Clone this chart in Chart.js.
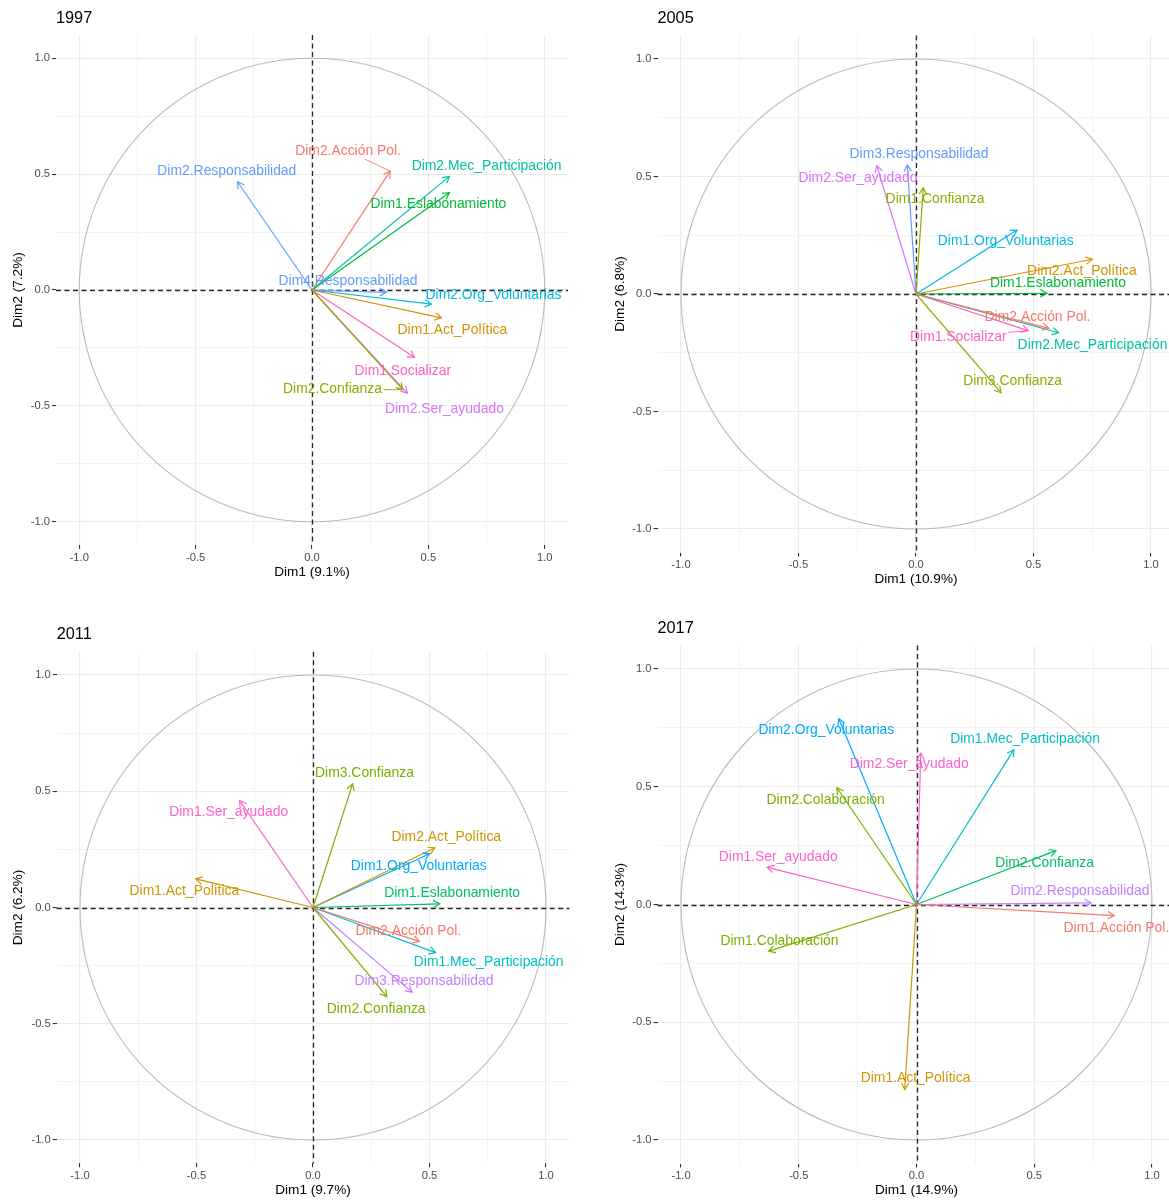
<!DOCTYPE html>
<html>
<head>
<meta charset="utf-8">
<title>Círculos de correlación de variables</title>
<script src="https://cdn.jsdelivr.net/npm/chart.js@4/dist/chart.umd.min.js"></script>
<style>
  html, body { margin: 0; padding: 0; background: #ffffff; }
  #wrap { position: relative; width: 1169px; height: 1201px; overflow: hidden; background: #ffffff; }
  #wrap canvas { position: absolute; }
</style>
</head>
<body>
<div id="wrap">
  <canvas id="c1997" width="585" height="600" style="left:0px;top:0px"></canvas>
  <canvas id="c2005" width="600" height="600" style="left:600px;top:0px"></canvas>
  <canvas id="c2011" width="585" height="601" style="left:0px;top:600px"></canvas>
  <canvas id="c2017" width="600" height="601" style="left:600px;top:600px"></canvas>
</div>
<script>
// ---------------- shared axis ticks ----------------
const TICK_VALUES = [-1, -0.75, -0.5, -0.25, 0, 0.25, 0.5, 0.75, 1];
const MAJOR_TICKS = [-1, -0.5, 0, 0.5, 1];

// ---------------- 1997 ----------------
const YEAR_1997 = '1997';
const PCT_1997 = ['Dim1 (9.1%)', 'Dim2 (7.2%)'];
const VARS_1997 = ['Dim2.Acción Pol.', 'Dim1.Act_Política', 'Dim2.Confianza', 'Dim1.Eslabonamiento',
  'Dim2.Mec_Participación', 'Dim2.Org_Voluntarias', 'Dim2.Responsabilidad', 'Dim4.Responsabilidad',
  'Dim2.Ser_ayudado', 'Dim1.Socializar'];
const DIM1_1997 = [0.336, 0.556, 0.390, 0.590, 0.590, 0.513, -0.320, 0.320, 0.410, 0.440];
const DIM2_1997 = [0.513, -0.120, -0.430, 0.420, 0.490, -0.061, 0.467, -0.010, -0.445, -0.290];

// ---------------- 2005 ----------------
const YEAR_2005 = '2005';
const PCT_2005 = ['Dim1 (10.9%)', 'Dim2 (6.8%)'];
const VARS_2005 = ['Dim2.Acción Pol.', 'Dim2.Act_Política', 'Dim1.Confianza', 'Dim3.Confianza',
  'Dim1.Eslabonamiento', 'Dim2.Mec_Participación', 'Dim1.Org_Voluntarias', 'Dim3.Responsabilidad',
  'Dim2.Ser_ayudado', 'Dim1.Socializar'];
const DIM1_2005 = [0.565, 0.750, 0.031, 0.362, 0.557, 0.607, 0.430, -0.037, -0.167, 0.477];
const DIM2_2005 = [-0.146, 0.148, 0.452, -0.420, 0.003, -0.165, 0.272, 0.549, 0.546, -0.156];

// ---------------- 2011 ----------------
const YEAR_2011 = '2011';
const PCT_2011 = ['Dim1 (9.7%)', 'Dim2 (6.2%)'];
const VARS_2011 = ['Dim2.Acción Pol.', 'Dim1.Act_Política', 'Dim2.Act_Política', 'Dim2.Confianza',
  'Dim3.Confianza', 'Dim1.Eslabonamiento', 'Dim1.Mec_Participación', 'Dim1.Org_Voluntarias',
  'Dim3.Responsabilidad', 'Dim1.Ser_ayudado'];
const DIM1_2011 = [0.457, -0.503, 0.523, 0.317, 0.170, 0.544, 0.526, 0.500, 0.425, -0.315];
const DIM2_2011 = [-0.146, 0.123, 0.257, -0.383, 0.532, 0.016, -0.194, 0.231, -0.364, 0.460];

// ---------------- 2017 ----------------
const YEAR_2017 = '2017';
const PCT_2017 = ['Dim1 (14.9%)', 'Dim2 (14.3%)'];
const VARS_2017 = ['Dim1.Acción Pol.', 'Dim1.Act_Política', 'Dim1.Colaboración', 'Dim2.Colaboración',
  'Dim2.Confianza', 'Dim1.Mec_Participación', 'Dim2.Org_Voluntarias', 'Dim2.Responsabilidad',
  'Dim1.Ser_ayudado', 'Dim2.Ser_ayudado'];
const DIM1_2017 = [0.840, -0.050, -0.628, -0.338, 0.592, 0.413, -0.330, 0.742, -0.634, 0.018];
const DIM2_2017 = [-0.047, -0.786, -0.198, 0.496, 0.229, 0.657, 0.789, 0.007, 0.158, 0.643];

// ---------------- label placement (data units, repelled positions) ----------------
const LABEL_X_1997 = [0.155, 0.603, 0.088, 0.543, 0.750, 0.780, -0.366, 0.155, 0.569, 0.390];
const LABEL_Y_1997 = [0.599, -0.172, -0.428, 0.371, 0.536, -0.022, 0.513, 0.036, -0.513, -0.348];
const LINK_1997 = [true, false, true, false, false, false, false, false, false, false];

const LABEL_X_2005 = [0.517, 0.706, 0.081, 0.411, 0.604, 0.751, 0.382, 0.013, -0.247, 0.180];
const LABEL_Y_2005 = [-0.097, 0.099, 0.403, -0.373, 0.046, -0.217, 0.223, 0.596, 0.492, -0.182];
const LINK_2005 = [false, false, false, false, false, false, false, false, false, true];

const LABEL_X_2011 = [0.409, -0.552, 0.572, 0.271, 0.221, 0.597, 0.754, 0.454, 0.476, -0.362];
const LABEL_Y_2011 = [-0.102, 0.069, 0.301, -0.436, 0.578, 0.062, -0.235, 0.179, -0.317, 0.412];
const LINK_2011 = [false, false, false, false, false, false, false, false, false, false];

const LABEL_X_2017 = [0.849, -0.004, -0.582, -0.386, 0.544, 0.461, -0.383, 0.694, -0.587, -0.031];
const LABEL_Y_2017 = [-0.099, -0.738, -0.157, 0.445, 0.177, 0.701, 0.739, 0.055, 0.201, 0.594];
const LINK_2017 = [false, false, false, false, false, false, false, false, false, false];

// ---------------- colours: ggplot hue scale per number of variable groups ----------------
const HUE_PALETTES = {
  8: ['#F8766D', '#CD9600', '#7CAE00', '#00BE67', '#00BFC4', '#00A9FF', '#C77CFF', '#FF61CC'],
  9: ['#F8766D', '#D39200', '#93AA00', '#00BA38', '#00C19F', '#00B9E3', '#619CFF', '#DB72FB', '#FF61C3']
};

const FONT_FAMILY = '"Liberation Sans", Arial, Helvetica, sans-serif';
Chart.defaults.font.family = FONT_FAMILY;

function groupOf(name) { return name.slice(name.indexOf('.') + 1); }

function coloursFor(names) {
  const groups = Array.from(new Set(names.map(groupOf))).sort();
  const pal = HUE_PALETTES[groups.length];
  return names.map(n => pal[groups.indexOf(groupOf(n))]);
}

const isMajor = v => MAJOR_TICKS.some(m => Math.abs(m - v) < 1e-9);

// Correlation circle, dashed zero axes, arrow heads, labels and panel title
const biplotPlugin = {
  id: 'biplot',
  beforeDatasetsDraw(chart, args, opts) {
    const { ctx, chartArea: a, scales: { x, y } } = chart;
    const cx = x.getPixelForValue(0), cy = y.getPixelForValue(0);
    ctx.save();
    ctx.beginPath();
    ctx.ellipse(cx, cy, x.getPixelForValue(1) - cx, cy - y.getPixelForValue(1), 0, 0, Math.PI * 2);
    ctx.strokeStyle = '#BABABA';
    ctx.lineWidth = 1.1;
    ctx.stroke();
    // dashed reference lines through the origin
    ctx.setLineDash([5, 3.5]);
    ctx.strokeStyle = '#262626';
    ctx.lineWidth = 1.3;
    ctx.beginPath();
    ctx.moveTo(a.left, Math.round(cy) + 0.5);
    ctx.lineTo(a.right, Math.round(cy) + 0.5);
    ctx.moveTo(Math.round(cx) + 0.5, a.top);
    ctx.lineTo(Math.round(cx) + 0.5, a.bottom);
    ctx.stroke();
    ctx.restore();
  },
  afterDatasetsDraw(chart, args, opts) {
    const { ctx, scales: { x, y } } = chart;
    ctx.save();
    // open arrow heads at each variable's coordinates
    chart.data.datasets.forEach((ds, i) => {
      const pts = chart.getDatasetMeta(i).data;
      const p0 = pts[0], p1 = pts[1];
      const ang = Math.atan2(p1.y - p0.y, p1.x - p0.x);
      const len = 7, spread = Math.PI / 6;
      ctx.strokeStyle = ds.borderColor;
      ctx.lineWidth = 1.2;
      ctx.lineCap = 'round';
      ctx.beginPath();
      ctx.moveTo(p1.x - len * Math.cos(ang - spread), p1.y - len * Math.sin(ang - spread));
      ctx.lineTo(p1.x, p1.y);
      ctx.lineTo(p1.x - len * Math.cos(ang + spread), p1.y - len * Math.sin(ang + spread));
      ctx.stroke();
    });
    // variable labels
    ctx.font = '13.9px ' + FONT_FAMILY;
    ctx.textAlign = 'center';
    ctx.textBaseline = 'middle';
    chart.data.datasets.forEach((ds, i) => {
      const lx = x.getPixelForValue(opts.labelX[i]);
      const ly = y.getPixelForValue(opts.labelY[i]);
      ctx.fillStyle = ds.borderColor;
      ctx.fillText(ds.label, lx, ly);
      if (opts.link[i]) {
        const tip = chart.getDatasetMeta(i).data[1];
        const hw = ctx.measureText(ds.label).width / 2 + 2, hh = 8;
        const dx = tip.x - lx, dy = tip.y - ly;
        const t = Math.min(dx !== 0 ? hw / Math.abs(dx) : Infinity, dy !== 0 ? hh / Math.abs(dy) : Infinity);
        const d = Math.hypot(dx, dy);
        ctx.strokeStyle = ds.borderColor;
        ctx.lineWidth = 0.9;
        ctx.beginPath();
        ctx.moveTo(lx + dx * t, ly + dy * t);
        ctx.lineTo(tip.x - dx / d * 1.5, tip.y - dy / d * 1.5);
        ctx.stroke();
      }
    });
    // panel title
    ctx.font = '16.3px ' + FONT_FAMILY;
    ctx.textAlign = 'left';
    ctx.fillStyle = '#000000';
    ctx.fillText(opts.title, chart.chartArea.left, opts.titleY);
    ctx.restore();
  }
};

function makePanel(canvasId, panel, frame) {
  const colours = coloursFor(panel.names);
  const datasets = panel.names.map((name, i) => ({
    label: name,
    data: [{ x: 0, y: 0 }, { x: panel.dim1[i], y: panel.dim2[i] }],
    borderColor: colours[i],
    backgroundColor: colours[i],
    borderWidth: 1.2,
    showLine: true,
    pointRadius: 0,
    pointHoverRadius: 0,
    fill: false,
    tension: 0
  }));

  const titleHalf = 13.6 * 1.2 / 2;
  const scaleBottom = frame.xTitleY + titleHalf;
  const a = frame.area;

  const gridOpts = {
    color: c => (c.tick && isMajor(c.tick.value)) ? '#EBEBEB' : '#F0F0F0',
    lineWidth: c => (c.tick && isMajor(c.tick.value)) ? 1.1 : 0.8,
    tickColor: c => (c.tick && isMajor(c.tick.value)) ? '#333333' : 'rgba(0,0,0,0)',
    tickWidth: 1.1,
    tickLength: 4,
    drawTicks: true
  };
  const tickOpts = {
    autoSkip: false,
    maxRotation: 0,
    minRotation: 0,
    color: '#4D4D4D',
    font: { size: 11.2 },
    padding: 2,
    callback: v => isMajor(v) ? v.toFixed(1) : ''
  };
  const setTicks = s => { s.ticks = TICK_VALUES.map(v => ({ value: v })); };

  return new Chart(document.getElementById(canvasId), {
    type: 'scatter',
    data: { datasets },
    options: {
      responsive: false,
      animation: false,
      devicePixelRatio: 1,
      events: [],
      layout: {
        padding: { left: 0, top: a.t, right: frame.w - a.r, bottom: frame.h - scaleBottom }
      },
      plugins: {
        legend: { display: false },
        tooltip: { enabled: false },
        biplot: {
          labelX: panel.labelX, labelY: panel.labelY, link: panel.link,
          title: panel.title, titleY: frame.titleY
        }
      },
      scales: {
        x: {
          type: 'linear', min: -1.1, max: 1.1,
          afterBuildTicks: setTicks,
          afterFit: s => { s.height = scaleBottom - a.b; },
          ticks: tickOpts,
          grid: gridOpts,
          border: { display: false },
          title: { display: true, text: panel.pct[0], color: '#000000', font: { size: 13.6 }, padding: { top: 0, bottom: 0 } }
        },
        y: {
          type: 'linear', min: -1.1, max: 1.1,
          afterBuildTicks: setTicks,
          afterFit: s => { s.width = a.l; },
          ticks: tickOpts,
          grid: gridOpts,
          border: { display: false },
          title: { display: true, text: panel.pct[1], color: '#000000', font: { size: 13.6 }, padding: { top: frame.yTitleX - titleHalf, bottom: 0 } }
        }
      }
    },
    plugins: [biplotPlugin]
  });
}

makePanel('c1997',
  { title: YEAR_1997, pct: PCT_1997, names: VARS_1997, dim1: DIM1_1997, dim2: DIM2_1997,
    labelX: LABEL_X_1997, labelY: LABEL_Y_1997, link: LINK_1997 },
  { w: 585, h: 600, area: { l: 56, r: 568, t: 35, b: 545 }, xTitleY: 572, yTitleX: 18, titleY: 18.5 });

makePanel('c2005',
  { title: YEAR_2005, pct: PCT_2005, names: VARS_2005, dim1: DIM1_2005, dim2: DIM2_2005,
    labelX: LABEL_X_2005, labelY: LABEL_Y_2005, link: LINK_2005 },
  { w: 600, h: 600, area: { l: 57.5, r: 574.5, t: 35.5, b: 552.5 }, xTitleY: 579, yTitleX: 20, titleY: 18.5 });

makePanel('c2011',
  { title: YEAR_2011, pct: PCT_2011, names: VARS_2011, dim1: DIM1_2011, dim2: DIM2_2011,
    labelX: LABEL_X_2011, labelY: LABEL_Y_2011, link: LINK_2011 },
  { w: 585, h: 601, area: { l: 56.7, r: 569.3, t: 51.75, b: 563.25 }, xTitleY: 590, yTitleX: 18, titleY: 35 });

makePanel('c2017',
  { title: YEAR_2017, pct: PCT_2017, names: VARS_2017, dim1: DIM1_2017, dim2: DIM2_2017,
    labelX: LABEL_X_2017, labelY: LABEL_Y_2017, link: LINK_2017 },
  { w: 600, h: 601, area: { l: 57.5, r: 575.5, t: 45.5, b: 563.5 }, xTitleY: 590, yTitleX: 20, titleY: 29 });
</script>
</body>
</html>
